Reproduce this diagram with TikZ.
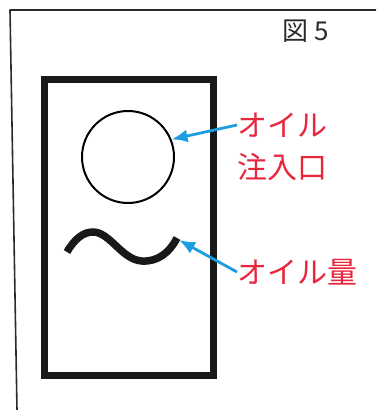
\documentclass[tikz,border=0pt]{standalone}
\usepackage{fontspec}
\newfontfamily\jpfont{Noto Sans CJK JP}
\usetikzlibrary{arrows.meta}
\definecolor{labelred}{HTML}{E8263C}
\definecolor{pointerblue}{HTML}{1C9DE0}
\definecolor{framegray}{HTML}{2B2B2B}

\begin{document}
\begin{tikzpicture}[
  x=1pt,
  y=-1pt,
  line join=round,
  frame/.style={draw=framegray,line width=1.6pt},
  casing/.style={draw=black!90,line width=7pt,line join=miter},
  inletcap/.style={draw=black,line width=2pt,circle,minimum size=92pt,inner sep=0pt},
  gauge/.style={draw=black!90,line width=7.5pt,line cap=butt},
  pointer/.style={draw=pointerblue,line width=2.8pt,-{Latex[length=16pt,width=13pt]}},
  jplabel/.style={text=labelred,font=\jpfont\fontsize{30}{36}\selectfont,inner sep=0pt,anchor=west}
]
  \useasboundingbox (0,0) rectangle (376,410);

  % Page frame, only the top and left edges show.
  \draw[frame] (376,10) -- (10,10) -- (17,410);
  \node[anchor=west,inner sep=0pt,text=framegray,font=\jpfont\fontsize{26}{30}\selectfont] (fig) at (282,31) {図 5};

  % Casing seen from the front.
  \draw[casing] (44.5,79.5) rectangle (213.5,375.5);

  % Filler cap and the oil level mark.
  \node[inletcap] (inlet) at (128,157) {};
  \coordinate (gaugetip) at (179,240);
  \draw[gauge] (67,252) .. controls (75,238) and (84,232) .. (93,232)
    .. controls (110,232) and (122,260) .. (142,261)
    .. controls (158,262) and (170,252) .. (177,238);

  % Labels with their pointers.
  \node[jplabel] (oil) at (237,125) {オイル};
  \node[jplabel] (port) at (237,167) {注入口};
  \node[jplabel] (level) at (237,272) {オイル量};
  \draw[pointer] (oil.west) -- (inlet.22);
  \draw[pointer] (level.west) -- (gaugetip);
\end{tikzpicture}
\end{document}
